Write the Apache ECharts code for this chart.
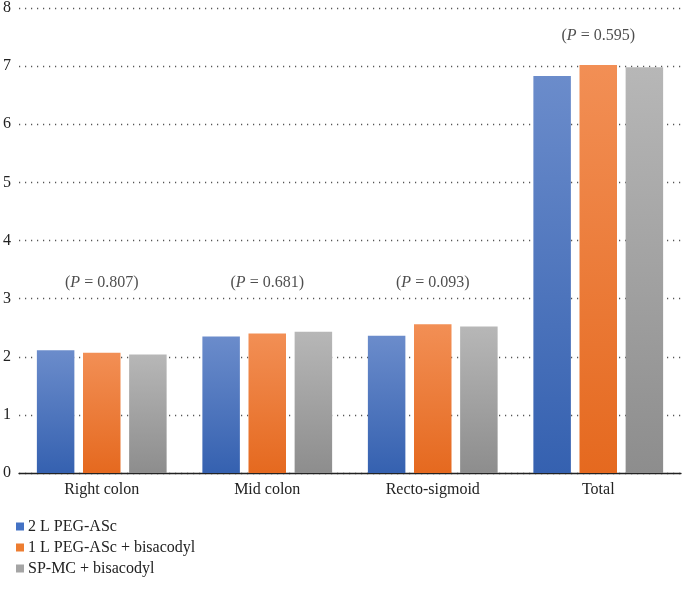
<!DOCTYPE html>
<html><head><meta charset="utf-8">
<script src="https://cdn.jsdelivr.net/npm/echarts@6/dist/echarts.min.js"></script>
<style>html,body{margin:0;padding:0;background:#fff}#c{width:682px;height:591px}</style>
</head><body><div id="c"></div>
<script>
const categories = ['Right colon', 'Mid colon', 'Recto-sigmoid', 'Total'];
const seriesNames = ['2 L PEG-ASc', '1 L PEG-ASc + bisacodyl', 'SP-MC + bisacodyl'];
const peg2 = [2.11, 2.35, 2.36, 6.83];
const peg1 = [2.07, 2.40, 2.56, 7.02];
const spmc = [2.04, 2.43, 2.52, 6.98];
const pLabels = ['0.807', '0.681', '0.093', '0.595'];
const pLabelY = [3.27, 3.27, 3.27, 7.53];
const yTicks = [0, 1, 2, 3, 4, 5, 6, 7, 8];

const font = '"Liberation Serif", "DejaVu Serif", serif';
function grad(top, bottom) {
  return new echarts.graphic.LinearGradient(0, 0, 0, 1, [{offset: 0, color: top}, {offset: 1, color: bottom}]);
}
const fills = [grad('#6b8ccb', '#3561b0'), grad('#f28f55', '#e5691f'), grad('#b7b7b7', '#8d8d8d')];
const legendColors = ['#4472c4', '#ed7d31', '#a5a5a5'];
const values = [peg2, peg1, spmc];

const chart = echarts.init(document.getElementById('c'));
const series = values.map((v, i) => ({
  name: seriesNames[i], type: 'bar', data: v, barWidth: 37.5, barGap: '23%',
  itemStyle: {color: fills[i]}, emphasis: {disabled: true}, animation: false
}));
series.push({
  type: 'scatter', symbolSize: 0, silent: true, animation: false,
  data: pLabelY.map((y, i) => [categories[i], y]),
  label: {
    show: true, position: 'inside',
    formatter: p => '(' + '{i|P}' + ' = ' + pLabels[p.dataIndex] + ')',
    fontFamily: font, fontSize: 16, color: '#222',
    rich: {i: {fontStyle: 'italic', fontFamily: font, fontSize: 16, color: '#222'}}
  }
});
chart.setOption({
  animation: false,
  grid: {left: 15, right: 1, top: 5, bottom: 118, containLabel: false},
  legend: {
    data: seriesNames.map((n, i) => ({name: n, itemStyle: {color: legendColors[i]}})),
    orient: 'vertical', left: 11, top: 513, itemWidth: 8, itemHeight: 8, itemGap: 4,
    icon: 'rect', textStyle: {fontFamily: font, fontSize: 16, color: '#222', lineHeight: 17, padding: [0,0,0,-1]}, selectedMode: false
  },
  xAxis: {
    type: 'category', data: categories,
    axisLine: {lineStyle: {color: '#222', width: 1.3}}, axisTick: {show: false},
    axisLabel: {fontFamily: font, fontSize: 16, color: '#222', margin: 9}
  },
  yAxis: {
    type: 'value', min: 0, max: 8, interval: 1,
    axisLabel: {fontFamily: font, fontSize: 16, color: '#222', margin: 16, align: 'left',
      formatter: v => yTicks.includes(v) ? String(v) : ''},
    axisLine: {show: false}, axisTick: {show: false},
    splitLine: {lineStyle: {color: '#555', type: [1.2, 4.8], width: 1.3}}
  },
  series: series
});
</script></body></html>
